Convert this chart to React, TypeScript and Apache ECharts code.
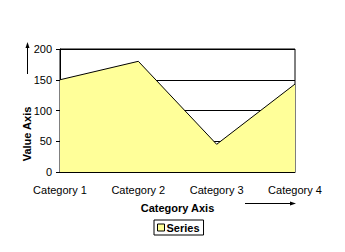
import React, { useEffect, useRef } from "react";
import * as echarts from "echarts";

const categories = ["Category 1", "Category 2", "Category 3", "Category 4"];
const seriesValues = [150, 180, 45, 143];
const valueTicks = [0, 50, 100, 150, 200];
const seriesName = "Series";

export default function App() {
  const ref = useRef<HTMLDivElement>(null);
  useEffect(() => {
    if (!ref.current) return;
    const chart = echarts.init(ref.current, undefined, { renderer: "svg" });
    const font = "Liberation Sans, Arial, sans-serif";
    chart.setOption({
      animation: false,
      backgroundColor: "#fff",
      textStyle: { fontFamily: font },
      grid: {
        left: 60,
        top: 49,
        right: 50,
        bottom: 80,
        show: true,
        borderColor: "#000",
        borderWidth: 1,
        backgroundColor: "transparent",
      },
      legend: {
        show: true,
        left: 154,
        top: 220,
        data: [
          {
            name: seriesName,
            icon: "rect",
            itemStyle: { color: "#FFFF99", borderColor: "#000", borderWidth: 1 },
          },
        ],
        itemWidth: 7,
        itemHeight: 7,
        itemGap: 2,
        padding: [2, 4, 2, 3],
        borderColor: "#000",
        borderWidth: 1,
        textStyle: { fontFamily: font, fontSize: 11, fontWeight: "bold", color: "#000", padding: [0, 0, 0, -3] },
      },
      xAxis: {
        type: "category",
        data: categories,
        boundaryGap: false,
        name: "Category Axis",
        nameLocation: "middle",
        nameGap: 30,
        nameMoveOverlap: false,
        nameTextStyle: { fontFamily: font, fontSize: 11, fontWeight: "bold", color: "#000" },
        axisLine: { show: true, lineStyle: { color: "#000", width: 1 } },
        axisTick: { show: false },
        axisLabel: { color: "#000", fontSize: 11, fontFamily: font, margin: 12, interval: 0 },
        splitLine: { show: false },
      },
      yAxis: {
        type: "value",
        min: valueTicks[0],
        max: valueTicks[valueTicks.length - 1],
        interval: 50,
        axisLine: { show: true, lineStyle: { color: "#000", width: 1 } },
        axisTick: { show: true, length: 4, lineStyle: { color: "#000" } },
        axisLabel: { color: "#000", fontSize: 11, fontFamily: font, margin: 8 },
        splitLine: { show: true, lineStyle: { color: "#000", width: 1 } },
      },
      series: [
        {
          name: seriesName,
          type: "line",
          data: seriesValues,
          symbol: "none",
          lineStyle: { color: "#000", width: 1 },
          itemStyle: { color: "#FFFF99" },
          areaStyle: { color: "#FFFF99", opacity: 1 },
        },
      ],
      graphic: [
        {
          type: "text",
          x: 27,
          y: 134,
          rotation: Math.PI / 2,
          style: {
            text: "Value Axis",
            fontFamily: font,
            fontSize: 11,
            fontWeight: "bold",
            fill: "#000",
            align: "center",
            verticalAlign: "middle",
          },
        },
        { type: "line", shape: { x1: 27.5, y1: 47, x2: 27.5, y2: 74 }, style: { stroke: "#000", lineWidth: 1 } },
        { type: "polygon", shape: { points: [[27.5, 42], [25.5, 48], [29.5, 48]] }, style: { fill: "#000" } },
        { type: "line", shape: { x1: 245, y1: 203.5, x2: 291, y2: 203.5 }, style: { stroke: "#000", lineWidth: 1 } },
        { type: "polygon", shape: { points: [[296, 203.5], [290, 201.5], [290, 205.5]] }, style: { fill: "#000" } },
      ],
    });
    return () => chart.dispose();
  }, []);
  return <div ref={ref} style={{ width: 345, height: 252, position: "absolute", left: 0, top: 0 }} />;
}
